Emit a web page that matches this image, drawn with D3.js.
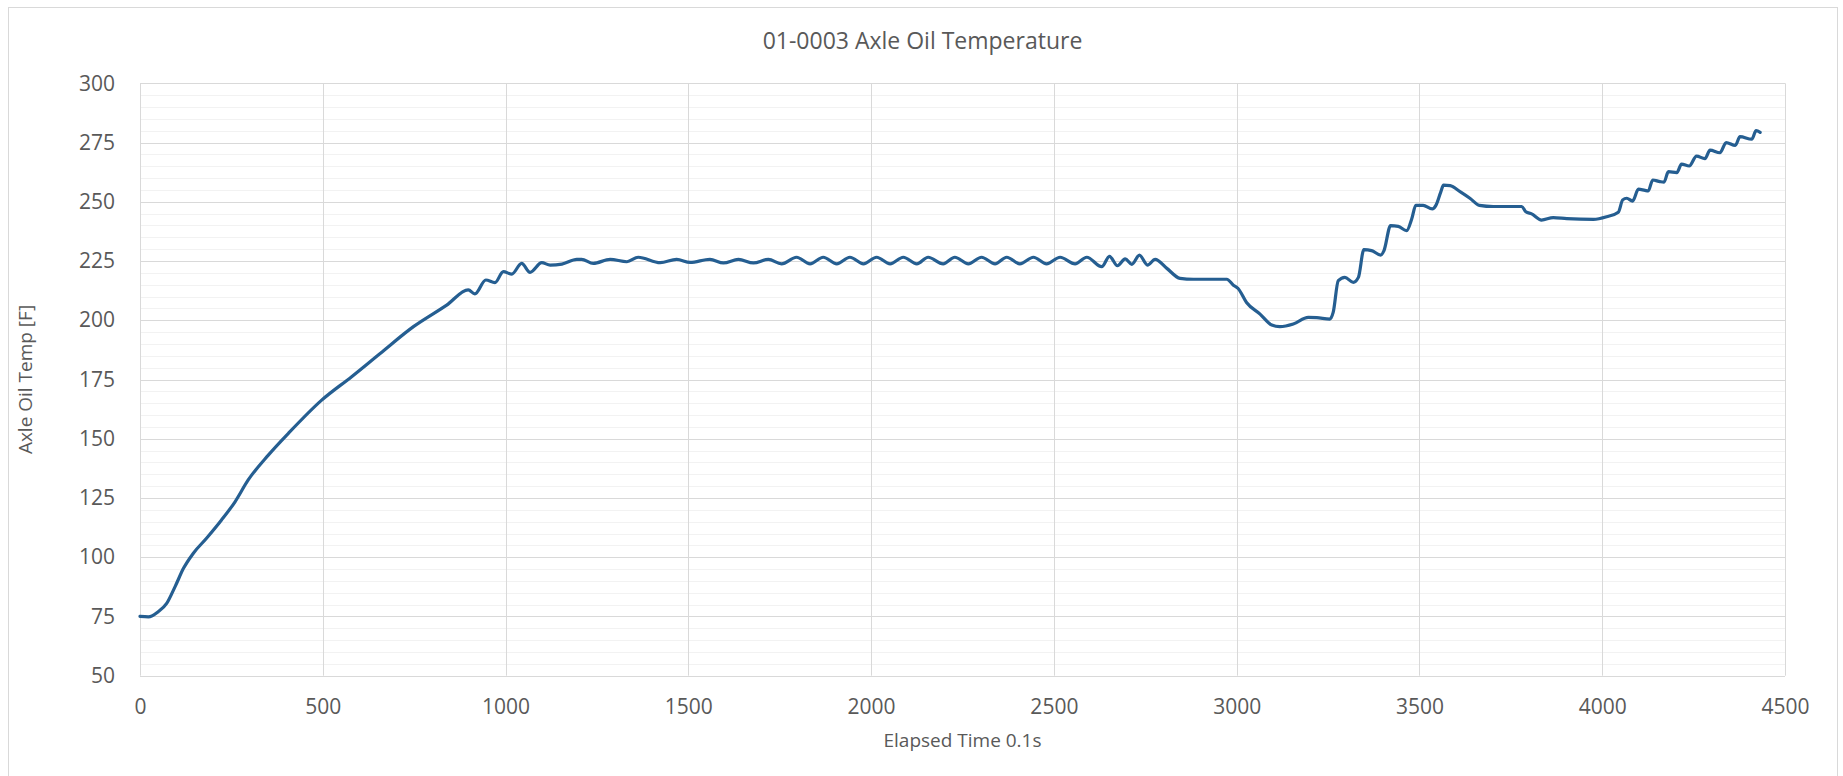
<!DOCTYPE html>
<html lang="en">
<head>
<meta charset="utf-8">
<title>Axle Oil Temperature</title>
<script src="https://cdn.jsdelivr.net/npm/d3@7"></script>
<style>
  body { margin: 0; background: #fff; }
  text { font-family: "Open Sans", sans-serif; fill: #595959; }
</style>
</head>
<body>
<script>
// chart values
const chartTitle = "01-0003 Axle Oil Temperature";
const xTitle = "Elapsed Time 0.1s";
const yTitle = "Axle Oil Temp [F]";

const xTicks = [0, 500, 1000, 1500, 2000, 2500, 3000, 3500, 4000, 4500];
const yTicks = [50, 75, 100, 125, 150, 175, 200, 225, 250, 275, 300];

const elapsed = [0, 23, 50, 73, 96, 119, 146, 182, 223, 260, 296, 351, 406, 497, 579, 657, 748, 839, 898, 916,
  946, 971, 994, 1017, 1044, 1067, 1099, 1122, 1154, 1195, 1208, 1240, 1286, 1332, 1363, 1423, 1468, 1505, 1559, 1596,
  1637, 1678, 1719, 1755, 1796, 1833, 1869, 1906, 1942, 1979, 2015, 2052, 2088, 2125, 2156, 2197, 2229, 2266, 2302, 2339,
  2371, 2407, 2444, 2480, 2517, 2558, 2590, 2631, 2652, 2674, 2695, 2713, 2734, 2756, 2777, 2809, 2845, 2882, 2973, 2991,
  3004, 3027, 3064, 3096, 3118, 3155, 3196, 3219, 3255, 3264, 3278, 3296, 3319, 3333, 3348, 3369, 3394, 3403, 3421, 3442,
  3465, 3479, 3490, 3510, 3535, 3545, 3558, 3566, 3584, 3611, 3638, 3664, 3702, 3780, 3791, 3807, 3834, 3866, 3903, 3976,
  4012, 4044, 4056, 4067, 4083, 4099, 4117, 4126, 4138, 4158, 4169, 4181, 4204, 4217, 4238, 4258, 4281, 4295, 4322, 4339,
  4364, 4377, 4409, 4421, 4432];

const oilTemp = [75, 74.8, 77, 80.5, 87.6, 95.3, 101.7, 108, 115.7, 123.4, 132.6, 143.1, 152.3, 166.3, 176.2, 186, 197.3, 206.4, 212.8, 211.1,
  217, 215.9, 220.5, 219.5, 224, 220.2, 224.3, 223.3, 223.7, 225.7, 225.7, 224, 225.7, 224.7, 226.6, 224.3, 225.7, 224.4, 225.7, 224.2,
  225.7, 224.2, 225.7, 223.8, 226.6, 223.8, 226.6, 223.8, 226.6, 223.8, 226.6, 223.8, 226.6, 223.8, 226.6, 223.8, 226.6, 223.8, 226.6, 223.8,
  226.6, 223.8, 226.6, 223.8, 226.6, 223.8, 226.6, 222.6, 227, 223, 225.9, 223.6, 227.5, 223.3, 225.7, 221.9, 217.7, 217.3, 217.3, 214.8,
  213.4, 207.5, 202.6, 198, 197.3, 198.4, 201.2, 201.1, 200.5, 203.3, 216.7, 218.1, 216, 218.1, 229.8, 229.4, 227.5, 229.4, 239.9, 239.6,
  237.8, 242.8, 248.5, 248.5, 247, 248.5, 254, 257, 256.8, 254.3, 251.5, 248.5, 248, 248, 245.8, 244.9, 242.3, 243.3, 242.9, 242.6,
  243.7, 245.6, 250.8, 251.5, 250.3, 255.3, 254.8, 254.6, 259.2, 258.5, 258.3, 262.7, 262.3, 265.9, 265.1, 269.3, 268.2, 271.8, 270.7, 275,
  273.8, 277.5, 276.4, 280, 279.3];

const w = 1843;
const h = 776;
const plot = { left: 140, right: 1785, top: 83.3, bottom: 675.7 };

const data = elapsed.map((t, i) => [t, oilTemp[i]]);

const xScale = d3.scaleLinear().domain([0, 4500]).range([plot.left, plot.right]);
const yScale = d3.scaleLinear().domain([50, 300]).range([plot.bottom, plot.top]);

const svg = d3.select("body").append("svg")
  .attr("width", w)
  .attr("height", h);

svg.append("rect")
  .attr("x", 8.5).attr("y", 7.5)
  .attr("width", 1829).attr("height", 800)
  .attr("fill", "#fff")
  .attr("stroke", "#d9d9d9");

// minor gridlines every 5
const minor = d3.range(55, 300, 5).filter(v => v % 25 !== 0);
svg.append("g").selectAll("line")
  .data(minor)
  .enter().append("line")
  .attr("x1", plot.left).attr("x2", plot.right)
  .attr("y1", d => Math.round(yScale(d)) + 0.5)
  .attr("y2", d => Math.round(yScale(d)) + 0.5)
  .attr("stroke", "#f2f2f2");

// major gridlines
svg.append("g").selectAll("line")
  .data(yTicks)
  .enter().append("line")
  .attr("x1", plot.left).attr("x2", plot.right)
  .attr("y1", d => Math.round(yScale(d)) + 0.5)
  .attr("y2", d => Math.round(yScale(d)) + 0.5)
  .attr("stroke", "#d9d9d9");

svg.append("g").selectAll("line")
  .data(xTicks)
  .enter().append("line")
  .attr("x1", d => Math.round(xScale(d)) + 0.5)
  .attr("x2", d => Math.round(xScale(d)) + 0.5)
  .attr("y1", plot.top).attr("y2", plot.bottom)
  .attr("stroke", "#d9d9d9");

const yAxis = d3.axisLeft(yScale).tickValues(yTicks).tickFormat(d3.format("d")).tickSize(0).tickPadding(25);
svg.append("g")
  .attr("transform", "translate(" + plot.left + ",0)")
  .call(yAxis)
  .call(g => g.select(".domain").remove())
  .selectAll("text")
  .style("font-size", "21px")
  .attr("fill", "#595959");

const xAxis = d3.axisBottom(xScale).tickValues(xTicks).tickFormat(d3.format("d")).tickSize(0).tickPadding(23);
svg.append("g")
  .attr("transform", "translate(0," + plot.bottom + ")")
  .call(xAxis)
  .call(g => g.select(".domain").remove())
  .selectAll("text")
  .style("font-size", "21px")
  .attr("fill", "#595959");

const line = d3.line()
  .x(d => xScale(d[0]))
  .y(d => yScale(d[1]))
  .curve(d3.curveMonotoneX);

svg.append("path")
  .datum(data)
  .attr("d", line)
  .attr("fill", "none")
  .attr("stroke", "#255e91")
  .attr("stroke-width", 3.2)
  .attr("stroke-linejoin", "round")
  .attr("stroke-linecap", "round");

svg.append("text")
  .attr("x", 922.5).attr("y", 49)
  .attr("text-anchor", "middle")
  .style("font-size", "23px")
  .text(chartTitle);

svg.append("text")
  .attr("x", (plot.left + plot.right) / 2).attr("y", 747)
  .attr("text-anchor", "middle")
  .style("font-size", "19px")
  .text(xTitle);

svg.append("text")
  .attr("transform", "translate(32," + (plot.top + plot.bottom) / 2 + ") rotate(-90)")
  .attr("text-anchor", "middle")
  .style("font-size", "19px")
  .text(yTitle);
</script>
</body>
</html>
